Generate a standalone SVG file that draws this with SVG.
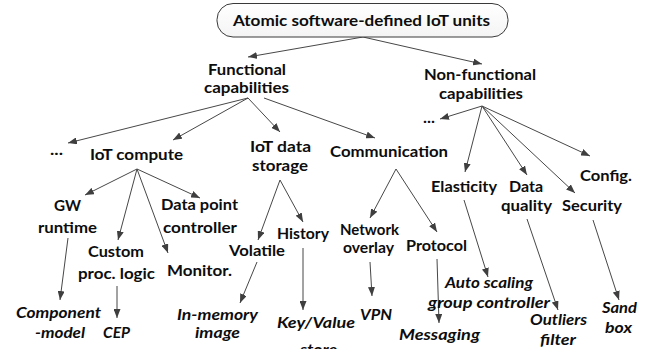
<svg xmlns="http://www.w3.org/2000/svg" width="647" height="349" viewBox="0 0 647 349">
  <defs>
    <marker id="arrow" viewBox="0 0 9 7" refX="9" refY="3.5" markerWidth="9" markerHeight="7" markerUnits="userSpaceOnUse" orient="auto">
      <path d="M0,0 L9,3.5 L0,7 z" fill="#3f3f3f"/>
    </marker>
    <linearGradient id="rootFill" x1="0" y1="0" x2="0" y2="1">
      <stop offset="0" stop-color="#ffffff"/>
      <stop offset="1" stop-color="#f4f4f4"/>
    </linearGradient>
  </defs>
  <style>
    text { font-family: "Lato", "Liberation Sans", sans-serif; font-weight: bold; font-size: 15.5px; fill: #0d0d0d; }
    text.it { font-style: italic; }
    .edge { stroke: #474747; stroke-width: 1; fill: none; marker-end: url(#arrow); }
  </style>
  <rect width="647" height="349" fill="#ffffff"/>

  <g id="connectors">
    <line class="edge" x1="363" y1="37" x2="248" y2="57"/>
    <line class="edge" x1="363" y1="37" x2="482" y2="64"/>
    <line class="edge" x1="248" y1="98" x2="68" y2="143"/>
    <line class="edge" x1="248" y1="98" x2="173" y2="140"/>
    <line class="edge" x1="248" y1="98" x2="280" y2="132"/>
    <line class="edge" x1="264" y1="98" x2="375" y2="138"/>
    <line class="edge" x1="482" y1="106" x2="440" y2="119"/>
    <line class="edge" x1="482" y1="106" x2="465" y2="172"/>
    <line class="edge" x1="482" y1="106" x2="527" y2="175"/>
    <line class="edge" x1="482" y1="106" x2="575" y2="193"/>
    <line class="edge" x1="482" y1="106" x2="590" y2="156"/>
    <line class="edge" x1="137" y1="169" x2="85" y2="195"/>
    <line class="edge" x1="137" y1="169" x2="118" y2="240"/>
    <line class="edge" x1="137" y1="169" x2="168" y2="253"/>
    <line class="edge" x1="137" y1="169" x2="200" y2="198"/>
    <line class="edge" x1="280" y1="180" x2="258" y2="240"/>
    <line class="edge" x1="280" y1="180" x2="303" y2="222"/>
    <line class="edge" x1="396" y1="169" x2="370" y2="218"/>
    <line class="edge" x1="396" y1="169" x2="437" y2="232"/>
    <line class="edge" x1="68" y1="238" x2="60" y2="300"/>
    <line class="edge" x1="117" y1="286" x2="117" y2="318"/>
    <line class="edge" x1="257" y1="262" x2="240" y2="303"/>
    <line class="edge" x1="303" y1="248" x2="303" y2="310"/>
    <line class="edge" x1="370" y1="262" x2="372" y2="296"/>
    <line class="edge" x1="437" y1="259" x2="439" y2="323"/>
    <line class="edge" x1="464" y1="200" x2="488" y2="277"/>
    <line class="edge" x1="527" y1="219" x2="558" y2="310"/>
    <line class="edge" x1="593" y1="220" x2="619" y2="300"/>
  </g>

  <g id="root">
    <rect x="217" y="3.5" width="291" height="33.5" rx="16" ry="16" fill="url(#rootFill)" stroke="#3a3a3a" stroke-width="1"/>
    <text x="233" y="26" textLength="257" lengthAdjust="spacingAndGlyphs">Atomic software-defined IoT units</text>
  </g>

  <g id="functional">
    <text x="208" y="75" textLength="78" lengthAdjust="spacingAndGlyphs">Functional</text>
    <text x="204" y="93" textLength="85" lengthAdjust="spacingAndGlyphs">capabilities</text>
  </g>
  <g id="non-functional">
    <text x="424" y="80" textLength="112" lengthAdjust="spacingAndGlyphs">Non-functional</text>
    <text x="439" y="99" textLength="84" lengthAdjust="spacingAndGlyphs">capabilities</text>
  </g>

  <g id="func-more"><text x="50" y="155" textLength="13" lengthAdjust="spacingAndGlyphs">...</text></g>
  <g id="iot-compute"><text x="90" y="160" textLength="93" lengthAdjust="spacingAndGlyphs">IoT compute</text></g>
  <g id="iot-data-storage">
    <text x="250" y="152" textLength="61" lengthAdjust="spacingAndGlyphs">IoT data</text>
    <text x="252" y="171" textLength="56" lengthAdjust="spacingAndGlyphs">storage</text>
  </g>
  <g id="communication"><text x="330" y="157" textLength="118" lengthAdjust="spacingAndGlyphs">Communication</text></g>

  <g id="nonfunc-more"><text x="423" y="123" textLength="12" lengthAdjust="spacingAndGlyphs">...</text></g>
  <g id="config"><text x="580" y="181" textLength="52" lengthAdjust="spacingAndGlyphs">Config.</text></g>
  <g id="elasticity"><text x="431" y="192" textLength="66" lengthAdjust="spacingAndGlyphs">Elasticity</text></g>
  <g id="data-quality">
    <text x="509" y="192" textLength="34" lengthAdjust="spacingAndGlyphs">Data</text>
    <text x="501" y="211" textLength="51" lengthAdjust="spacingAndGlyphs">quality</text>
  </g>
  <g id="security"><text x="562" y="211" textLength="60" lengthAdjust="spacingAndGlyphs">Security</text></g>

  <g id="gw-runtime">
    <text x="54" y="211" textLength="27" lengthAdjust="spacingAndGlyphs">GW</text>
    <text x="38" y="233" textLength="59" lengthAdjust="spacingAndGlyphs">runtime</text>
  </g>
  <g id="data-point-controller">
    <text x="161" y="210" textLength="77" lengthAdjust="spacingAndGlyphs">Data point</text>
    <text x="163" y="233" textLength="74" lengthAdjust="spacingAndGlyphs">controller</text>
  </g>
  <g id="custom-logic">
    <text x="88" y="257" textLength="56" lengthAdjust="spacingAndGlyphs">Custom</text>
    <text x="78" y="279" textLength="77" lengthAdjust="spacingAndGlyphs">proc. logic</text>
  </g>
  <g id="monitor"><text x="167" y="276" textLength="65" lengthAdjust="spacingAndGlyphs">Monitor.</text></g>
  <g id="volatile"><text x="229" y="256" textLength="56" lengthAdjust="spacingAndGlyphs">Volatile</text></g>
  <g id="history"><text x="277" y="239" textLength="52" lengthAdjust="spacingAndGlyphs">History</text></g>
  <g id="network-overlay">
    <text x="340" y="235" textLength="59" lengthAdjust="spacingAndGlyphs">Network</text>
    <text x="343" y="253" textLength="51" lengthAdjust="spacingAndGlyphs">overlay</text>
  </g>
  <g id="protocol"><text x="406" y="251" textLength="61" lengthAdjust="spacingAndGlyphs">Protocol</text></g>

  <g id="component-model">
    <text class="it" x="16" y="318" textLength="85" lengthAdjust="spacingAndGlyphs">Component</text>
    <text class="it" x="35" y="338" textLength="50" lengthAdjust="spacingAndGlyphs">-model</text>
  </g>
  <g id="cep"><text class="it" x="103" y="338" textLength="27" lengthAdjust="spacingAndGlyphs">CEP</text></g>
  <g id="in-memory-image">
    <text class="it" x="177" y="320" textLength="81" lengthAdjust="spacingAndGlyphs">In-memory</text>
    <text class="it" x="195" y="338" textLength="45" lengthAdjust="spacingAndGlyphs">image</text>
  </g>
  <g id="key-value-store">
    <text class="it" x="277" y="328" textLength="78" lengthAdjust="spacingAndGlyphs">Key/Value</text>
    <text class="it" x="300" y="355" textLength="37" lengthAdjust="spacingAndGlyphs">store</text>
  </g>
  <g id="vpn"><text class="it" x="360" y="320" textLength="32" lengthAdjust="spacingAndGlyphs">VPN</text></g>
  <g id="messaging"><text class="it" x="399" y="340" textLength="81" lengthAdjust="spacingAndGlyphs">Messaging</text></g>
  <g id="auto-scaling">
    <text class="it" x="445" y="288" textLength="88" lengthAdjust="spacingAndGlyphs">Auto scaling</text>
    <text class="it" x="428" y="308" textLength="122" lengthAdjust="spacingAndGlyphs">group controller</text>
  </g>
  <g id="outliers-filter">
    <text class="it" x="530" y="325" textLength="57" lengthAdjust="spacingAndGlyphs">Outliers</text>
    <text class="it" x="540" y="345" textLength="36" lengthAdjust="spacingAndGlyphs">filter</text>
  </g>
  <g id="sandbox">
    <text class="it" x="602" y="313" textLength="35" lengthAdjust="spacingAndGlyphs">Sand</text>
    <text class="it" x="605" y="333" textLength="27" lengthAdjust="spacingAndGlyphs">box</text>
  </g>
</svg>
